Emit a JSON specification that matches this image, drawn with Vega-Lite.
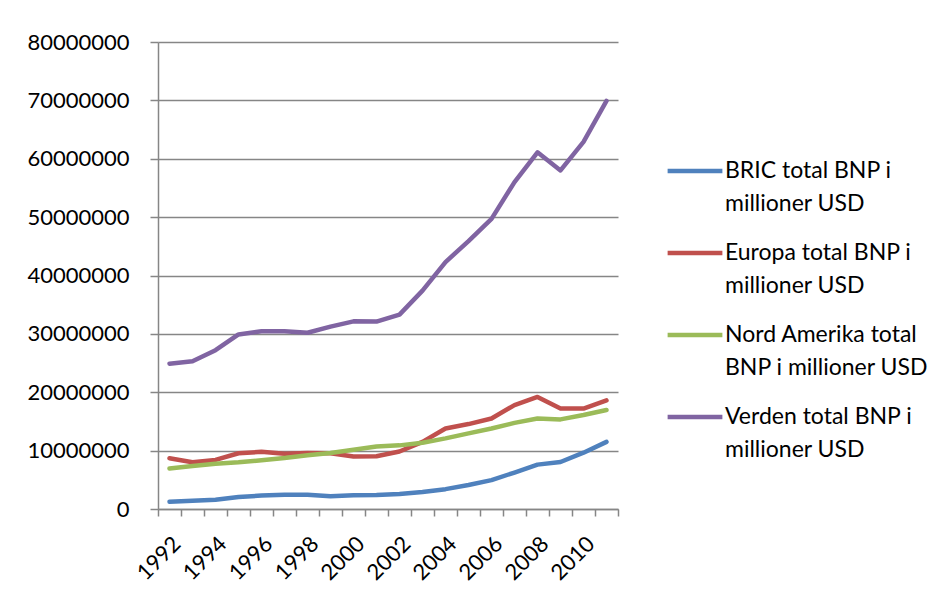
{
  "$schema": "https://vega.github.io/schema/vega-lite/v6.json",
  "autosize": {"type": "none"},
  "width": 460,
  "height": 467,
  "padding": {"left": 158, "top": 42, "right": 333, "bottom": 89},
  "background": "white",
  "config": {
    "view": {"stroke": null},
    "font": "Lato",
    "axis": {"labelFont": "Lato", "labelFontSize": 22, "labelColor": "#000000", "domainColor": "#868686", "domainWidth": 1.5, "tickColor": "#868686", "tickWidth": 1.5, "gridColor": "#868686", "gridWidth": 1.5, "title": null},
    "legend": {"labelFont": "Lato", "labelFontSize": 23, "labelColor": "#000000"}
  },
  "data": {
    "values": [
      {"aar": 1992, "BRIC total BNP i millioner USD": 1250000, "Europa total BNP i millioner USD": 8700000, "Nord Amerika total BNP i millioner USD": 6950000, "Verden total BNP i millioner USD": 24900000},
      {"aar": 1993, "BRIC total BNP i millioner USD": 1400000, "Europa total BNP i millioner USD": 8000000, "Nord Amerika total BNP i millioner USD": 7350000, "Verden total BNP i millioner USD": 25300000},
      {"aar": 1994, "BRIC total BNP i millioner USD": 1600000, "Europa total BNP i millioner USD": 8400000, "Nord Amerika total BNP i millioner USD": 7750000, "Verden total BNP i millioner USD": 27200000},
      {"aar": 1995, "BRIC total BNP i millioner USD": 2050000, "Europa total BNP i millioner USD": 9550000, "Nord Amerika total BNP i millioner USD": 8000000, "Verden total BNP i millioner USD": 29900000},
      {"aar": 1996, "BRIC total BNP i millioner USD": 2300000, "Europa total BNP i millioner USD": 9800000, "Nord Amerika total BNP i millioner USD": 8350000, "Verden total BNP i millioner USD": 30450000},
      {"aar": 1997, "BRIC total BNP i millioner USD": 2450000, "Europa total BNP i millioner USD": 9450000, "Nord Amerika total BNP i millioner USD": 8750000, "Verden total BNP i millioner USD": 30450000},
      {"aar": 1998, "BRIC total BNP i millioner USD": 2450000, "Europa total BNP i millioner USD": 9600000, "Nord Amerika total BNP i millioner USD": 9200000, "Verden total BNP i millioner USD": 30200000},
      {"aar": 1999, "BRIC total BNP i millioner USD": 2200000, "Europa total BNP i millioner USD": 9550000, "Nord Amerika total BNP i millioner USD": 9600000, "Verden total BNP i millioner USD": 31250000},
      {"aar": 2000, "BRIC total BNP i millioner USD": 2350000, "Europa total BNP i millioner USD": 9000000, "Nord Amerika total BNP i millioner USD": 10150000, "Verden total BNP i millioner USD": 32150000},
      {"aar": 2001, "BRIC total BNP i millioner USD": 2400000, "Europa total BNP i millioner USD": 9050000, "Nord Amerika total BNP i millioner USD": 10700000, "Verden total BNP i millioner USD": 32100000},
      {"aar": 2002, "BRIC total BNP i millioner USD": 2550000, "Europa total BNP i millioner USD": 9850000, "Nord Amerika total BNP i millioner USD": 10900000, "Verden total BNP i millioner USD": 33300000},
      {"aar": 2003, "BRIC total BNP i millioner USD": 2900000, "Europa total BNP i millioner USD": 11500000, "Nord Amerika total BNP i millioner USD": 11350000, "Verden total BNP i millioner USD": 37400000},
      {"aar": 2004, "BRIC total BNP i millioner USD": 3400000, "Europa total BNP i millioner USD": 13800000, "Nord Amerika total BNP i millioner USD": 12100000, "Verden total BNP i millioner USD": 42300000},
      {"aar": 2005, "BRIC total BNP i millioner USD": 4100000, "Europa total BNP i millioner USD": 14550000, "Nord Amerika total BNP i millioner USD": 12950000, "Verden total BNP i millioner USD": 45900000},
      {"aar": 2006, "BRIC total BNP i millioner USD": 4950000, "Europa total BNP i millioner USD": 15500000, "Nord Amerika total BNP i millioner USD": 13800000, "Verden total BNP i millioner USD": 49700000},
      {"aar": 2007, "BRIC total BNP i millioner USD": 6250000, "Europa total BNP i millioner USD": 17800000, "Nord Amerika total BNP i millioner USD": 14750000, "Verden total BNP i millioner USD": 56000000},
      {"aar": 2008, "BRIC total BNP i millioner USD": 7600000, "Europa total BNP i millioner USD": 19200000, "Nord Amerika total BNP i millioner USD": 15500000, "Verden total BNP i millioner USD": 61100000},
      {"aar": 2009, "BRIC total BNP i millioner USD": 8050000, "Europa total BNP i millioner USD": 17200000, "Nord Amerika total BNP i millioner USD": 15350000, "Verden total BNP i millioner USD": 58000000},
      {"aar": 2010, "BRIC total BNP i millioner USD": 9650000, "Europa total BNP i millioner USD": 17200000, "Nord Amerika total BNP i millioner USD": 16100000, "Verden total BNP i millioner USD": 62900000},
      {"aar": 2011, "BRIC total BNP i millioner USD": 11500000, "Europa total BNP i millioner USD": 18600000, "Nord Amerika total BNP i millioner USD": 16950000, "Verden total BNP i millioner USD": 69900000}
    ]
  },
  "transform": [
    {"fold": ["BRIC total BNP i millioner USD", "Europa total BNP i millioner USD", "Nord Amerika total BNP i millioner USD", "Verden total BNP i millioner USD"], "as": ["serie", "verdi"]}
  ],
  "mark": {"type": "line", "strokeWidth": 4.5, "strokeCap": "round", "strokeJoin": "round"},
  "encoding": {
    "x": {
      "field": "aar", "type": "ordinal",
      "scale": {"type": "band", "paddingInner": 0, "paddingOuter": 0},
      "axis": {"labelAngle": -45, "tickBand": "extent", "tickSize": 7, "labelPadding": 17, "labelExpr": "datum.value % 2 == 0 ? datum.label : ''", "labelOverlap": false, "grid": false}
    },
    "y": {
      "field": "verdi", "type": "quantitative",
      "scale": {"domain": [0, 80000000], "nice": false},
      "axis": {"values": [0, 10000000, 20000000, 30000000, 40000000, 50000000, 60000000, 70000000, 80000000], "format": "d", "tickSize": 8, "labelPadding": 21, "grid": true}
    },
    "color": {
      "field": "serie", "type": "nominal",
      "scale": {"domain": ["BRIC total BNP i millioner USD", "Europa total BNP i millioner USD", "Nord Amerika total BNP i millioner USD", "Verden total BNP i millioner USD"], "range": ["#4F81BD", "#C0504D", "#9BBB59", "#8064A2"]},
      "legend": {
        "title": null, "orient": "none", "legendX": 507, "legendY": 99,
        "symbolType": "stroke", "symbolSize": 3000, "symbolStrokeWidth": 4.5,
        "labelOffset": 0, "labelLimit": 400, "rowPadding": 7, "labelBaseline": "middle",
        "labelExpr": "datum.label == 'Nord Amerika total BNP i millioner USD' ? ['Nord Amerika total', 'BNP i millioner USD'] : [replace(datum.label, ' millioner USD', ''), 'millioner USD']",
        "encode": {"labels": {"update": {"lineHeight": {"value": 33}}}}
      }
    }
  }
}
